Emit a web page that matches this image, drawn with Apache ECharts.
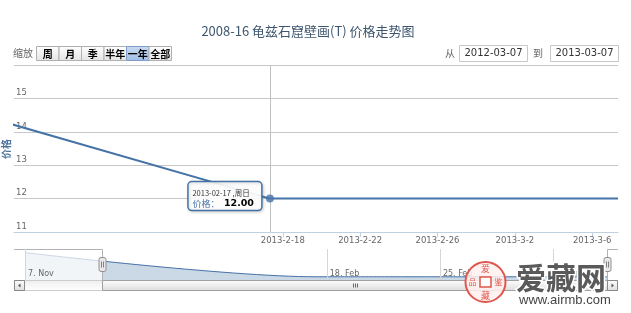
<!DOCTYPE html>
<html>
<head>
<meta charset="utf-8">
<script src="https://cdn.jsdelivr.net/npm/echarts@6/dist/echarts.min.js"></script>
<style>html,body{margin:0;padding:0;background:#fff}#c{width:631px;height:313px}</style>
</head>
<body>
<div id="c"></div>
<script>
// ---------------- data ----------------
const TITLE = '2008-16 龟兹石窟壁画(T) 价格走势图';
const Y_NAME = '价格';
const dates = ['2012-11-07','2013-02-17','2013-02-18','2013-02-19','2013-02-20','2013-02-21','2013-02-22',
  '2013-02-23','2013-02-24','2013-02-25','2013-02-26','2013-02-27','2013-02-28','2013-03-01',
  '2013-03-02','2013-03-03','2013-03-04','2013-03-05','2013-03-06','2013-03-07'];
const prices = [15.00, 12.00, 12.00, 12.00, 12.00, 12.00, 12.00, 12.00, 12.00, 12.00,
  12.00, 12.00, 12.00, 12.00, 12.00, 12.00, 12.00, 12.00, 12.00, 12.00];
const yTicks = [11, 12, 13, 14, 15, 16];
const mainTickDates = ['2013-02-18','2013-02-22','2013-02-26','2013-03-02','2013-03-06'];
const mainTickLabels = ['2013-2-18','2013-2-22','2013-2-26','2013-3-2','2013-3-6'];
const navTickDates = ['2012-11-07','2013-02-18','2013-02-25','2013-03-04'];
const navTickLabels = ['7. Nov','18. Feb','25. Feb','4. Mar'];
const zoomLabel = '缩放';
const zoomButtons = ['周','月','季','半年','一年','全部'];
const selectedButton = '一年';
const fromLabel = '从', toLabel = '到';
const rangeFrom = '2012-03-07', rangeTo = '2013-03-07';
const hoverDate = '2013-02-17';
const hoverWeekday = '周日';
const priceLabel = '价格：';

// ------------- ordinal positions (Highstock-like) -------------
const DAY = 86400000;
const ORIGIN = Date.UTC(2013, 1, 17);
const POINT_OFFSET = 8 / 24;   // points stamped at 08:00
const GAP_UNITS = 18;          // compressed gap before the daily run
function dayPos(s) { const p = s.split('-').map(Number); return (Date.UTC(p[0], p[1] - 1, p[2]) - ORIGIN) / DAY; }
const positions = dates.map((d, i) => i === 0 ? null : dayPos(d) + POINT_OFFSET);
positions[0] = positions[1] - GAP_UNITS;
function tickPos(d) { const i = dates.indexOf(d); return (i === 0) ? positions[0] : dayPos(d); }
const mainTickPos = mainTickDates.map(tickPos);
const navTickPos = navTickDates.map(tickPos);
const seriesData = positions.map((p, i) => [p, prices[i]]);
const hoverIdx = dates.indexOf(hoverDate);

const MAIN_MIN = -12.9;
const MAIN_MAX = positions[positions.length - 1];
const NAV_MIN = positions[0];
const NAV_MAX = positions[positions.length - 1];

const FONT = '"DejaVu Sans","Noto Sans CJK SC",sans-serif';
const CJK = '"Noto Sans CJK SC","DejaVu Sans",sans-serif';
const BLUE = '#4572A7';

function near(a, b) { return Math.abs(a - b) < 1e-6; }

const chart = echarts.init(document.getElementById('c'), null, {renderer: 'canvas', width: 631, height: 313});
const option = {
  animation: false,
  grid: [
    {left: 14, right: 13, top: 65, height: 167},
    {left: 25, right: 24, top: 249, height: 31}
  ],
  xAxis: [
    {gridIndex: 0, type: 'value', min: MAIN_MIN, max: MAIN_MAX,
     axisLine: {show: true, onZero: false, lineStyle: {color: '#C0D0E0', width: 1}},
     axisTick: {show: true, customValues: mainTickPos, length: 5, lineStyle: {color: '#C0D0E0'}},
     axisLabel: {show: true, customValues: mainTickPos, margin: 5, color: '#666', fontSize: 8.5, fontFamily: FONT,
       formatter: v => { const i = mainTickPos.findIndex(p => near(p, v)); return i >= 0 ? mainTickLabels[i] : ''; }},
     splitLine: {show: false}},
    {gridIndex: 1, type: 'value', min: NAV_MIN, max: NAV_MAX, z: 70,
     axisLine: {show: false},
     axisTick: {show: true, inside: true, customValues: navTickPos, length: 31, lineStyle: {color: '#D6D6D6'}},
     axisLabel: {show: true, inside: true, customValues: navTickPos, margin: 2, align: 'left', verticalAlign: 'bottom',
       padding: [0, 0, 0, 3], color: '#666', fontSize: 8, fontFamily: FONT,
       formatter: v => { const i = navTickPos.findIndex(p => near(p, v)); return i >= 0 ? navTickLabels[i] : ''; }},
     splitLine: {show: false}}
  ],
  yAxis: [
    {gridIndex: 0, type: 'value', min: yTicks[0], max: yTicks[yTicks.length - 1], interval: 1,
     axisLine: {show: false}, axisTick: {show: false},
     axisLabel: {inside: true, align: 'left', verticalAlign: 'bottom', margin: 2, color: '#666', fontSize: 8.5,
       fontFamily: FONT, showMaxLabel: false, lineHeight: 11},
     splitLine: {show: true, lineStyle: {color: '#C8C8C8', width: 1}}},
    {gridIndex: 1, type: 'value', min: 11.6, max: 15.45, show: false, splitLine: {show: false}}
  ],
  series: [
    {type: 'line', xAxisIndex: 0, yAxisIndex: 0, data: seriesData, showSymbol: false, silent: true, clip: true,
     lineStyle: {color: BLUE, width: 2}, itemStyle: {color: BLUE}, z: 3,
     markLine: {silent: true, symbol: 'none', label: {show: false}, animation: false,
       lineStyle: {color: '#C0C0C0', width: 1, type: 'solid'}, data: [{xAxis: positions[hoverIdx]}]}},
    {type: 'scatter', xAxisIndex: 0, yAxisIndex: 0, data: [seriesData[hoverIdx]], symbolSize: 8, silent: true,
     itemStyle: {color: BLUE}, z: 5},
    {type: 'line', xAxisIndex: 1, yAxisIndex: 1, data: seriesData, showSymbol: false, smooth: 0.3, silent: true,
     lineStyle: {color: BLUE, width: 1}, areaStyle: {color: 'rgba(69,114,167,0.4)'}}
  ]
};
chart.setOption(option);

// ---------------- decorations ----------------
const xN = v => chart.convertToPixel({xAxisIndex: 1}, v);
const xM = v => chart.convertToPixel({xAxisIndex: 0}, v);
const navTop = chart.convertToPixel({yAxisIndex: 1}, 15.45);
const navBot = chart.convertToPixel({yAxisIndex: 1}, 11.6);
const plotL = xM(MAIN_MIN), plotR = xM(MAIN_MAX);
const navL = xN(NAV_MIN), navR = xN(NAV_MAX);
const zMin = xN(MAIN_MIN), zMax = xN(MAIN_MAX);
const hp = chart.convertToPixel({seriesIndex: 1}, seriesData[hoverIdx]);

const g = [];
function txt(text, x, y, size, fill, extra, z) {
  g.push({type: 'text', silent: true, z: z || 100,
    style: Object.assign({text: text, x: x, y: y, fontSize: size, fontFamily: CJK, fill: fill,
      textAlign: 'left', textVerticalAlign: 'middle'}, extra || {})});
}
function grad(a, b) { return {type: 'linear', x: 0, y: 0, x2: 0, y2: 1, colorStops: [{offset: 0, color: a}, {offset: 1, color: b}]}; }

// title
txt(TITLE, 308, 31, 13, '#3E576F', {textAlign: 'center'});
// y axis name
g.push({type: 'text', silent: true, z: 100, x: 6, y: 149, rotation: Math.PI / 2,
  style: {text: Y_NAME, fontSize: 10, fontFamily: CJK, fill: '#4d759e', fontWeight: 'bold', textAlign: 'center', textVerticalAlign: 'middle'}});

// range selector
txt(zoomLabel, 13, 53.5, 10, '#666');
let bx = 36;
zoomButtons.forEach(b => {
  const w = 22.5, sel = b === selectedButton;
  g.push({type: 'rect', silent: true, z: 100, shape: {x: bx + 0.5, y: 46.5, width: w, height: 14},
    style: {fill: sel ? grad('#c9dbf2', '#9fbde4') : grad('#ffffff', '#e3e3e3'), stroke: sel ? '#7f9ccb' : '#b0b0b0', lineWidth: 1}});
  txt(b, bx + 0.5 + w / 2, 53.8, 10, '#000', {textAlign: 'center', fontWeight: 'bold'}, 101);
  bx += w;
});
// date inputs
txt(fromLabel, 445, 53.5, 10, '#666');
g.push({type: 'rect', silent: true, z: 100, shape: {x: 459.5, y: 45.5, width: 68, height: 16}, style: {fill: '#fff', stroke: '#c8c8c8', lineWidth: 1}});
txt(rangeFrom, 493.5, 53.8, 10, '#333', {textAlign: 'center', fontFamily: FONT}, 101);
txt(toLabel, 533, 53.5, 10, '#666');
g.push({type: 'rect', silent: true, z: 100, shape: {x: 550.5, y: 45.5, width: 68, height: 16}, style: {fill: '#fff', stroke: '#c8c8c8', lineWidth: 1}});
txt(rangeTo, 584.5, 53.8, 10, '#333', {textAlign: 'center', fontFamily: FONT}, 101);

// navigator mask + outline
g.push({type: 'rect', silent: true, z: 50, shape: {x: navL, y: navTop, width: zMin - navL, height: navBot - navTop},
  style: {fill: 'rgba(255,255,255,0.72)'}});
g.push({type: 'rect', silent: true, z: 50, shape: {x: zMax, y: navTop, width: Math.max(0, navR - zMax), height: navBot - navTop},
  style: {fill: 'rgba(255,255,255,0.72)'}});
g.push({type: 'polyline', silent: true, z: 60, shape: {points: [[plotL, navTop + 0.5], [Math.round(zMin) + 0.5, navTop + 0.5], [Math.round(zMin) + 0.5, navBot]]},
  style: {stroke: '#b2b1b6', lineWidth: 1, fill: null}});
g.push({type: 'polyline', silent: true, z: 60, shape: {points: [[Math.round(zMax) + 0.5, navBot], [Math.round(zMax) + 0.5, navTop + 0.5], [plotR, navTop + 0.5]]},
  style: {stroke: '#b2b1b6', lineWidth: 1, fill: null}});

// scrollbar
const sbTop = navBot + 0.5, sbH = 10;
g.push({type: 'rect', silent: true, z: 55, shape: {x: plotL + 0.5, y: sbTop, width: plotR - plotL - 1, height: sbH},
  style: {fill: grad('#eeeeee', '#ffffff'), stroke: '#cccccc', lineWidth: 1}});
g.push({type: 'rect', silent: true, z: 56, shape: {x: Math.round(zMin) + 0.5, y: sbTop, width: Math.round(zMax) - Math.round(zMin), height: sbH},
  style: {fill: grad('#ffffff', '#dcdcdc'), stroke: '#a0a0a0', lineWidth: 1}});
const mid = (zMin + zMax) / 2;
[-2, 0, 2].forEach(o => g.push({type: 'line', silent: true, z: 57,
  shape: {x1: Math.round(mid + o) + 0.5, y1: sbTop + 3, x2: Math.round(mid + o) + 0.5, y2: sbTop + 7}, style: {stroke: '#666', lineWidth: 1}}));
[[plotL + 0.5, 1], [plotR - 10.5, -1]].forEach(([x, d]) => {
  g.push({type: 'rect', silent: true, z: 57, shape: {x: x, y: sbTop, width: 10, height: sbH},
    style: {fill: grad('#ffffff', '#dddddd'), stroke: '#888', lineWidth: 1}});
  const cx = x + 5, cy = sbTop + sbH / 2;
  g.push({type: 'polygon', silent: true, z: 58, shape: {points: [[cx - 1.5 * d, cy], [cx + 1 * d, cy - 2], [cx + 1 * d, cy + 2]]},
    style: {fill: '#555'}});
});

// handles
[zMin, zMax].forEach(x => {
  const hx = Math.round(x) + 0.5, cy = (navTop + navBot) / 2;
  g.push({type: 'rect', silent: true, z: 61, shape: {x: hx - 3.5, y: cy - 7, width: 7, height: 14, r: 2},
    style: {fill: '#ebe7e8', stroke: '#8f8e94', lineWidth: 1}});
  [-1, 1].forEach(o => g.push({type: 'line', silent: true, z: 62,
    shape: {x1: hx + o, y1: cy - 3, x2: hx + o, y2: cy + 3}, style: {stroke: '#666', lineWidth: 0.8}}));
});

// tooltip
const tw = 74, th = 29;
const tx = hp[0] - 8 - tw, ty = hp[1] - 17;
g.push({type: 'rect', silent: true, z: 90, shape: {x: tx, y: ty, width: tw, height: th, r: 4},
  style: {fill: 'rgba(255,255,255,0.92)', stroke: BLUE, lineWidth: 1.5, shadowBlur: 3, shadowColor: 'rgba(0,0,0,0.18)', shadowOffsetX: 1, shadowOffsetY: 1}});
txt(hoverDate + ' ,' + hoverWeekday, tx + 4.5, ty + 11.5, 7.5, '#333', null, 91);
txt(priceLabel, tx + 4.5, ty + 21.5, 9, BLUE, null, 91);
txt(prices[hoverIdx].toFixed(2), tx + 36, ty + 21.5, 9.5, '#000', {fontWeight: 'bold', fontFamily: FONT}, 91);

// watermark
g.push({type: 'circle', silent: true, z: 120, shape: {cx: 485.5, cy: 282, r: 20},
  style: {fill: 'rgba(255,240,238,0.85)', stroke: '#e0564e', lineWidth: 2}});
g.push({type: 'rect', silent: true, z: 121, shape: {x: 480, y: 277, width: 11, height: 10},
  style: {fill: '#fff', stroke: '#e0564e', lineWidth: 1.5}});
txt('爱', 485.5, 268.5, 9, '#e0564e', {textAlign: 'center'}, 122);
txt('藏', 485.5, 295.5, 9, '#e0564e', {textAlign: 'center'}, 122);
txt('品', 472.5, 282, 8, '#e0564e', {textAlign: 'center'}, 122);
txt('鉴', 498.5, 282, 8, '#e0564e', {textAlign: 'center'}, 122);
txt('爱藏网', 516, 278, 30, '#5a5a5a', {stroke: '#ffffff', lineWidth: 3, fontWeight: 'bold'}, 120);
txt('www.airmb.com', 519, 300.5, 13, '#444', {fontFamily: '"Liberation Sans",sans-serif', stroke: '#fff', lineWidth: 2}, 120);

chart.setOption({graphic: g});
</script>
</body>
</html>
